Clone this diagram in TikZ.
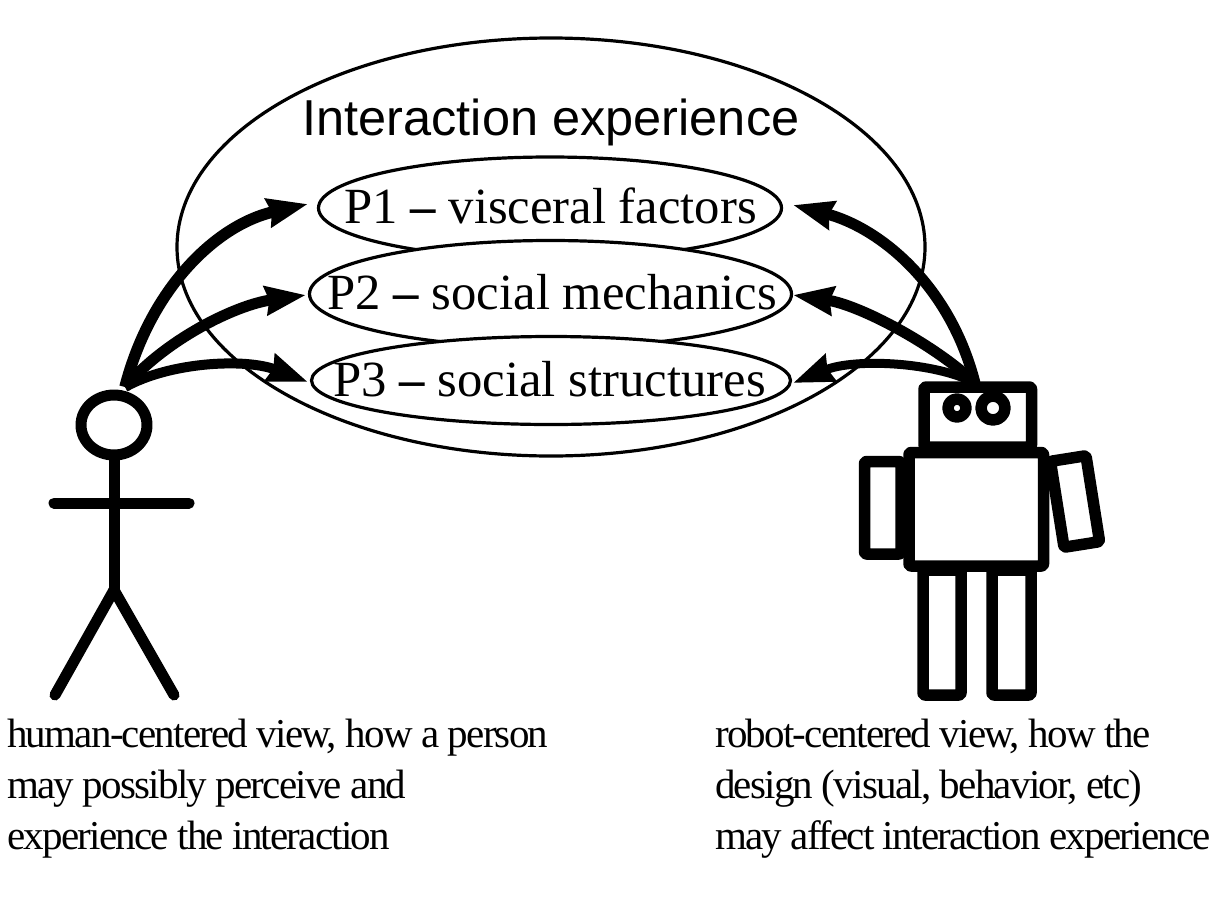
\documentclass[tikz,border=0pt]{standalone}
\usepackage{fontspec}
\setmainfont{Liberation Serif}
\newfontfamily\headfont{Liberation Sans}
\newfontfamily\viewfont[LetterSpace=-4.3]{Liberation Serif}
\usetikzlibrary{arrows.meta}
\newcommand{\factordash}{\textbf{--}}
\begin{document}
\begin{tikzpicture}[x=1pt,y=-1pt,line join=round]
	\tikzstyle{pill}=[draw,line width=3.2pt,fill=white]
	\tikzstyle{factor}=[font=\fontsize{50.7}{50}\selectfont]
	\tikzstyle{view}=[font=\viewfont\fontsize{41}{51}\selectfont,align=left,anchor=north west,inner sep=0pt]
	\tikzstyle{flow}=[line width=11.5pt,-{Stealth[length=40pt,width=28pt,inset=3pt]}]
	\tikzstyle{limb}=[line width=11pt,line cap=round]
	\tikzstyle{part}=[draw,line width=11.5pt,fill=white,rounded corners=2pt]
	\useasboundingbox (0,0) rectangle (1210,900);

	\draw[line width=3.2pt] (551,247) ellipse (374 and 209);
	\node[font=\headfont\fontsize{50.5}{50}\selectfont] (title) at (551,122){Interaction experience};

	\draw[pill] (550,208) ellipse (231.5 and 51);
	\draw[pill] (550.5,294) ellipse (241 and 53.5);
	\draw[pill] (551,380.5) ellipse (239.5 and 44);
	\node[factor] (p1) at (550.5,206){P1 \factordash{} visceral factors};
	\node[factor] (p2) at (552,292){P2 \factordash{} social mechanics};
	\node[factor] (p3) at (549.5,379){P3 \factordash{} social structures};

	\coordinate (hsrc) at (125,387);
	\coordinate (rsrc) at (975,383);
	\coordinate (p1l) at (308,204);
	\coordinate (p2l) at (306,295);
	\coordinate (p3l) at (308,382);
	\coordinate (p1r) at (793,205);
	\coordinate (p2r) at (793,295);
	\coordinate (p3r) at (793,383);

	\draw[flow] (hsrc) .. controls (150,290) and (215,225) .. (p1l);
	\draw[flow,line width=11pt] (hsrc) .. controls (165,340) and (235,305) .. (p2l);
	\draw[flow,line width=10pt] (hsrc) .. controls (170,362) and (245,358) .. (p3l);
	\draw[flow,line width=11pt] (rsrc) .. controls (950,285) and (880,228) .. (p1r);
	\draw[flow,line width=11pt] (rsrc) .. controls (935,345) and (860,305) .. (p2r);
	\draw[flow,line width=9pt] (rsrc) .. controls (935,362) and (855,358) .. (p3r);

	% person
	\draw[limb] (114,425) ellipse (33 and 30);
	\draw[limb] (114,460) -- (114,590);
	\draw[limb] (54,503) -- (189,503);
	\draw[limb] (114,590) -- (55,695);
	\draw[limb] (114,590) -- (174,695);

	% robot
	\draw[part] (924,387) rectangle (1031.5,447);
	\draw[line width=11.5pt] (957,408) circle (9);
	\draw[line width=11.5pt] (993,408) circle (12);
	\draw[part] (864.5,461.5) rectangle (901,554);
	\draw[part,rotate around={9:(1075,501.5)}] (1057,458) rectangle (1093,545);
	\draw[part] (923,570) rectangle (961,695);
	\draw[part] (992,570) rectangle (1031,695);
	\draw[part] (909,452.5) rectangle (1043.5,566);

	\node[view] (human) at (7,719){human-centered view, how a person\\may possibly perceive and\\experience the interaction};
	\node[view] (robot) at (715,719){robot-centered view, how the\\design (visual, behavior, etc)\\may affect interaction experience};
\end{tikzpicture}
\end{document}
